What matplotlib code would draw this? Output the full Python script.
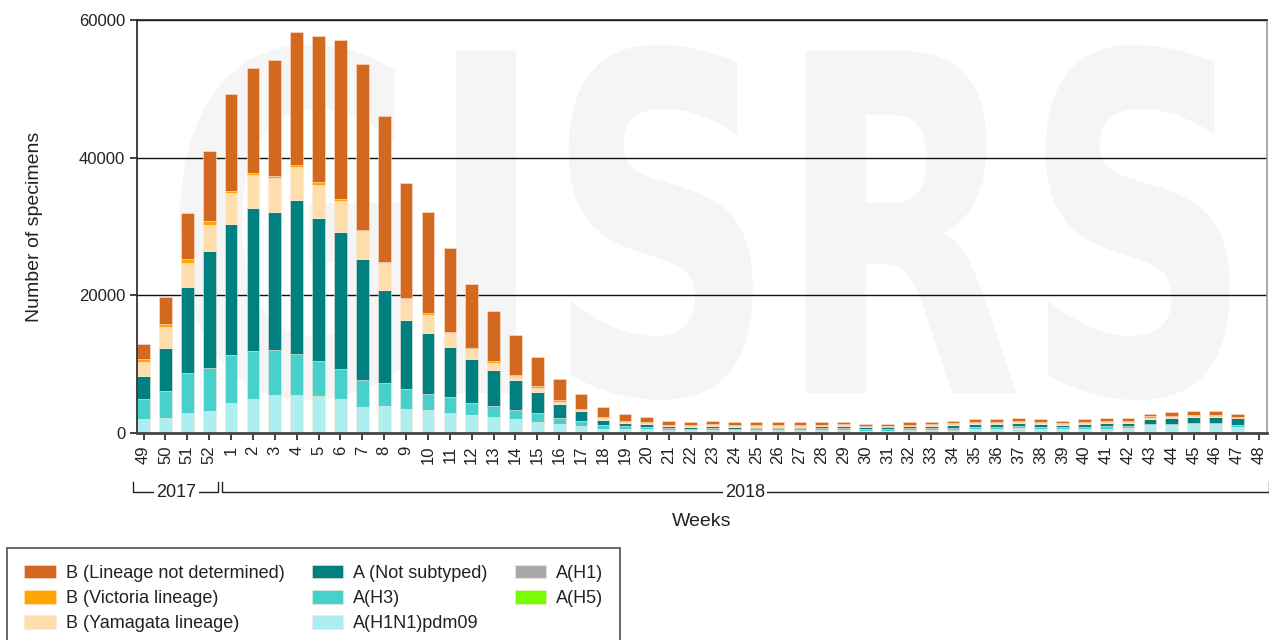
import numpy as np
import matplotlib
matplotlib.use("Agg")
import matplotlib.pyplot as plt
from matplotlib.textpath import TextPath
from matplotlib.patches import PathPatch
from matplotlib.font_manager import FontProperties
from matplotlib.transforms import Affine2D, blended_transform_factory

plt.rcParams['font.family'] = ['Liberation Sans', 'DejaVu Sans']

# weeks 49-52 of 2017, then 1-48 of 2018
weeks = ['49', '50', '51', '52'] + [str(w) for w in range(1, 49)]

h1n1pdm09 = [1990, 2180, 2960, 3150, 4320, 4900, 5480, 5480, 5340, 4950, 3740, 3980, 3540,
             3350, 2960, 2570, 2380, 1990, 1550, 1370, 980, 640, 580, 540, 390, 390,
             450, 420, 450, 460, 450, 460, 480, 360, 350, 420, 450, 500, 550, 600, 700,
             620, 550, 600, 650, 680, 1100, 1150, 1250, 1250, 900, 0]
h3 = [2960, 3930, 5730, 6310, 6940, 6990, 6560, 5970, 5140, 4320, 3980, 3350, 2820,
      2380, 2330, 1750, 1600, 1360, 1410, 770, 770, 580, 400, 330, 340, 250,
      300, 230, 220, 220, 230, 240, 220, 220, 230, 250, 250, 270, 300, 300, 310,
      280, 270, 300, 320, 300, 270, 220, 250, 250, 250, 0]
not_subtyped = [3350, 6310, 12470, 17040, 19170, 20730, 20040, 22380, 20730, 20000, 17570, 13400, 10000,
                8740, 7140, 6360, 5150, 4370, 2960, 2140, 1410, 730, 480, 440, 290, 230,
                300, 280, 270, 260, 260, 270, 260, 240, 240, 280, 290, 330, 400, 380, 420,
                380, 340, 400, 440, 470, 630, 820, 880, 880, 970, 0]
h1 = [0] * 52
h5 = [0] * 52
yamagata = [2040, 3010, 3540, 3740, 4370, 4800, 4910, 4760, 4810, 4370, 4080, 3980, 3060,
            2660, 2130, 1550, 1110, 530, 630, 190, 140, 240, 140, 150, 100, 150,
            150, 120, 130, 120, 130, 130, 140, 100, 100, 130, 120, 150, 160, 150, 150,
            140, 120, 130, 140, 130, 180, 170, 120, 130, 110, 0]
victoria = [340, 390, 590, 580, 340, 340, 380, 390, 380, 390, 190, 190, 190,
            250, 150, 150, 200, 240, 250, 290, 200, 140, 150, 140, 100, 150,
            150, 130, 120, 130, 120, 130, 150, 110, 110, 150, 130, 170, 170, 150, 160,
            130, 120, 120, 140, 130, 220, 170, 130, 120, 130, 0]
b_not_det = [2320, 3980, 6740, 10100, 14080, 15240, 16800, 19320, 21310, 23100, 24030, 21170, 16750,
             14660, 12130, 9320, 7330, 5730, 4270, 3100, 2180, 1410, 1020, 790, 580, 390,
             450, 380, 370, 370, 370, 370, 350, 330, 330, 370, 360, 380, 420, 420, 450,
             450, 400, 450, 500, 480, 420, 480, 570, 570, 460, 0]

series = [
    ('A(H1N1)pdm09', h1n1pdm09, '#AFEEEE'),
    ('A(H3)', h3, '#48D1CC'),
    ('A (Not subtyped)', not_subtyped, '#008080'),
    ('A(H1)', h1, '#A9A9A9'),
    ('A(H5)', h5, '#7CFC00'),
    ('B (Yamagata lineage)', yamagata, '#FFDEAD'),
    ('B (Victoria lineage)', victoria, '#FFA500'),
    ('B (Lineage not determined)', b_not_det, '#D2691E'),
]
legend_order = ['B (Lineage not determined)', 'B (Victoria lineage)', 'B (Yamagata lineage)',
                'A (Not subtyped)', 'A(H3)', 'A(H1N1)pdm09', 'A(H1)', 'A(H5)']

W, H = 1269, 640
fig = plt.figure(figsize=(W / 100, H / 100), dpi=100)
ax = fig.add_axes([137 / W, 1 - 433 / H, 1130 / W, 413 / H])

x = np.arange(len(weeks))
bottom = np.zeros(len(weeks))
handles = {}
for name, vals, col in series:
    vals = np.array(vals, dtype=float)
    bars = ax.bar(x, vals, width=0.58, bottom=bottom, color=col,
                  edgecolor=(1, 0.9, 0.85, 0.6), linewidth=0.6, label=name, zorder=2)
    handles[name] = bars
    bottom += vals

ax.set_xlim(-0.3, 51.35)
ax.set_ylim(0, 60000)
ax.set_yticks([0, 20000, 40000, 60000])
ax.set_yticklabels(['0', '20000', '40000', '60000'])
ax.set_xticks(x)
ax.set_xticklabels(weeks, rotation=90)
ax.tick_params(axis='both', labelsize=12, colors='#222222', length=5, width=1.2)
ax.tick_params(axis='x', pad=4)
ax.yaxis.grid(True, color='#111111', linewidth=1)
ax.set_axisbelow(True)
for s in ['left', 'top']:
    ax.spines[s].set_color('#222222')
    ax.spines[s].set_linewidth(1.2)
ax.spines['bottom'].set_color('#444444')
ax.spines['bottom'].set_linewidth(2)
ax.spines['right'].set_color('#999999')
ax.spines['right'].set_linewidth(1.2)

# faint GISRS watermark
tp = TextPath((0, 0), 'GISRS', size=1, prop=FontProperties(family='DejaVu Sans', weight='bold'))
ext = tp.get_extents()
x0, x1, y0, y1 = 0.038, 0.967, 0.08, 0.94
tr = Affine2D().translate(-ext.x0, -ext.y0).scale((x1 - x0) / ext.width, (y1 - y0) / ext.height) \
    .translate(x0, y0) + ax.transAxes
ax.add_patch(PathPatch(tp, transform=tr, facecolor='#f5f5f5', edgecolor='none', zorder=0.3))

# year brackets below the week labels
bt = blended_transform_factory(ax.transData, ax.transAxes)
yb, yt = -0.143, -0.119
ax.plot([-0.47, -0.47, 3.42, 3.42], [yt, yb, yb, yt], color='#222222', lw=1,
        transform=bt, clip_on=False)
ax.plot([3.59, 3.59, 51.45, 51.45], [yt, yb, yb, yt], color='#222222', lw=1,
        transform=bt, clip_on=False)
for lab, xc in [('2017', 1.5), ('2018', 27.5)]:
    ax.text(xc, yb, lab, transform=bt, ha='center', va='center', fontsize=13, color='#222222',
            bbox=dict(facecolor='white', edgecolor='none', pad=1.5))

fig.text(702 / W, 1 - 522 / H, 'Weeks', ha='center', va='center', fontsize=14, color='#222222')
fig.text(35 / W, 1 - 227 / H, 'Number of specimens', ha='center', va='center',
         rotation=90, fontsize=14, color='#222222')

leg = fig.legend([handles[n] for n in legend_order], legend_order, ncol=3,
                 loc='upper left', bbox_to_anchor=(7 / W, 1 - 548 / H),
                 fontsize=13, frameon=True, fancybox=False, edgecolor='#222222',
                 handlelength=1.75, handleheight=0.75, handletextpad=0.55,
                 labelspacing=0.45, columnspacing=1.5, borderpad=0.95, borderaxespad=0)
leg.get_frame().set_linewidth(1.2)
for t in leg.get_texts():
    t.set_color('#222222')

fig.savefig('out.png', dpi=100)
